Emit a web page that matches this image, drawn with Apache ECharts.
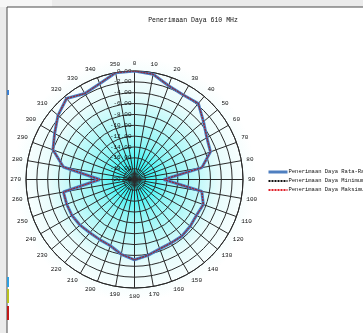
<!DOCTYPE html>
<html>
<head>
<meta charset="utf-8">
<script src="https://cdn.jsdelivr.net/npm/echarts@6/dist/echarts.min.js"></script>
<style>
  html, body { margin: 0; padding: 0; background: #ebebeb; }
  #chart { width: 363px; height: 333px; }
</style>
</head>
<body>
<div id="chart"></div>
<script>
// Arah (derajat) dan daya terima (dB relatif) untuk tiap arah
const angles = [0, 10, 20, 30, 40, 50, 60, 70, 80, 90, 100, 110, 120, 130, 140, 150, 160, 170,
                180, 190, 200, 210, 220, 230, 240, 250, 260, 270, 280, 290, 300, 310, 320, 330, 340, 350];
const rataRata = [0, -0.3, -1.6, -2.0, -1.7, -3.4, -4.6, -5.1, -7.4, -14.6, -7.4, -6.5, -6.8, -6.6, -6.4, -6.5, -6.4, -5.8,
                  -5.2, -6.0, -7.0, -7.2, -7.2, -6.9, -6.7, -6.7, -6.7, -13.6, -6.7, -4.0, -3.0, -1.6, -0.5, -1.7, -1.2, 0];
const minimum  = [0, -0.3, -1.6, -2.0, -1.7, -3.4, -4.6, -5.1, -7.4, -14.6, -7.4, -6.5, -6.8, -6.6, -6.4, -6.5, -6.4, -5.8,
                  -5.2, -6.0, -7.0, -7.2, -7.2, -6.9, -6.7, -6.7, -6.7, -13.6, -6.7, -4.0, -3.0, -1.6, -0.5, -1.7, -1.2, 0];
const maksimum = [0, -0.3, -1.6, -2.0, -1.7, -3.4, -4.6, -5.1, -7.4, -14.6, -7.4, -6.5, -6.8, -6.6, -6.4, -6.5, -6.4, -5.8,
                  -5.2, -6.0, -7.0, -7.2, -7.2, -6.9, -6.7, -6.7, -6.7, -13.6, -6.7, -4.0, -3.0, -1.6, -0.5, -1.7, -1.2, 0];
const radiusMin = -20, radiusMax = 0, radiusStep = 2;

const seriesNames = ['Penerimaan Daya Rata-Rata', 'Penerimaan Daya Minimum', 'Penerimaan Daya Maksimum'];

// Pasangan [nilai, sudut], ditutup kembali ke titik awal
function closedLoop(values) {
  const pts = values.map((v, i) => [v, angles[i]]);
  pts.push([values[0], 360]);
  return pts;
}

const FONT = '"Liberation Mono", "DejaVu Sans Mono", monospace';
const GRID = '#2a2a2a';
const cx = 134.5, cy = 179.5, R = 108.5;

const chart = echarts.init(document.getElementById('chart'), null, { renderer: 'canvas' });

chart.setOption({
  animation: false,
  backgroundColor: '#ebebeb',
  graphic: [
    // area lembar kerja
    { type: 'rect', z: -10, shape: { x: 7, y: 7, width: 380, height: 340 },
      style: { fill: '#ffffff', stroke: '#4a4a4a', lineWidth: 1 } },
    { type: 'rect', z: -11, shape: { x: 0, y: 0, width: 52, height: 7 }, style: { fill: '#f6f6f6' } },
    // gradien latar area plot
    { type: 'rect', z: -9, shape: { x: cx - 122, y: cy - 125, width: 244, height: 250 },
      style: { fill: new echarts.graphic.RadialGradient(0.5, 0.5, 0.5, [
        { offset: 0, color: '#00f2f2' },
        { offset: 0.3, color: '#92f6f6' },
        { offset: 0.7, color: '#e8fcfc' },
        { offset: 1, color: '#ffffff' }
      ]) } },
    // penanda warna di tepi kiri
    { type: 'rect', z: -8, shape: { x: 7, y: 90, width: 2, height: 5 }, style: { fill: '#3c7fd0' } },
    { type: 'rect', z: -8, shape: { x: 7, y: 277, width: 2, height: 10 }, style: { fill: '#2f9fe0' } },
    { type: 'rect', z: -8, shape: { x: 7, y: 289, width: 2, height: 14 }, style: { fill: '#b8c020' } },
    { type: 'rect', z: -8, shape: { x: 7, y: 306, width: 2, height: 14 }, style: { fill: '#c01818' } }
  ],
  title: {
    text: 'Penerimaan Daya 610 MHz',
    left: 188, top: 12, textAlign: 'center',
    textStyle: { fontFamily: FONT, fontSize: 6.5, fontWeight: 'normal', color: '#111' }
  },
  legend: {
    orient: 'vertical',
    left: 262, top: 164,
    itemWidth: 19, itemHeight: 6, itemGap: 3,
    itemStyle: { opacity: 0 },
    textStyle: { fontFamily: FONT, fontSize: 5.5, color: '#111', padding: [0, 0, 0, -4] },
    data: [
      { name: seriesNames[0], lineStyle: { width: 3 } },
      { name: seriesNames[1] },
      { name: seriesNames[2] }
    ]
  },
  polar: { center: [cx, cy], radius: R },
  angleAxis: {
    type: 'value', min: 0, max: 360, interval: 10,
    startAngle: 90, clockwise: true,
    axisLine: { show: true, lineStyle: { color: GRID, width: 1 } },
    axisTick: { show: false },
    axisLabel: {
      margin: 5, fontFamily: FONT, fontSize: 6, color: '#111',
      formatter: v => (v === 360 ? '' : String(v))
    },
    splitLine: { show: true, lineStyle: { color: GRID, width: 1 } }
  },
  radiusAxis: {
    type: 'value', min: radiusMin, max: radiusMax, interval: radiusStep,
    axisLine: { show: false },
    axisTick: { show: false },
    axisLabel: {
      fontFamily: FONT, fontSize: 6, color: '#111', margin: 3,
      formatter: v => v.toFixed(2)
    },
    splitLine: { show: true, lineStyle: { color: GRID, width: 1 } }
  },
  series: [
    { name: seriesNames[0], type: 'line', coordinateSystem: 'polar', symbol: 'none',
      data: closedLoop(rataRata), lineStyle: { color: '#4f7fc0', width: 3 }, itemStyle: { color: '#4f7fc0' }, z: 3 },
    { name: seriesNames[1], type: 'line', coordinateSystem: 'polar', symbol: 'none',
      data: closedLoop(minimum), lineStyle: { color: '#111', width: 0.8, type: [2, 1] }, itemStyle: { color: '#111' }, z: 4 },
    { name: seriesNames[2], type: 'line', coordinateSystem: 'polar', symbol: 'none',
      data: closedLoop(maksimum), lineStyle: { color: '#e0202a', width: 0.8, type: [2, 1] }, itemStyle: { color: '#e0202a' }, z: 5 }
  ]
});
</script>
</body>
</html>
